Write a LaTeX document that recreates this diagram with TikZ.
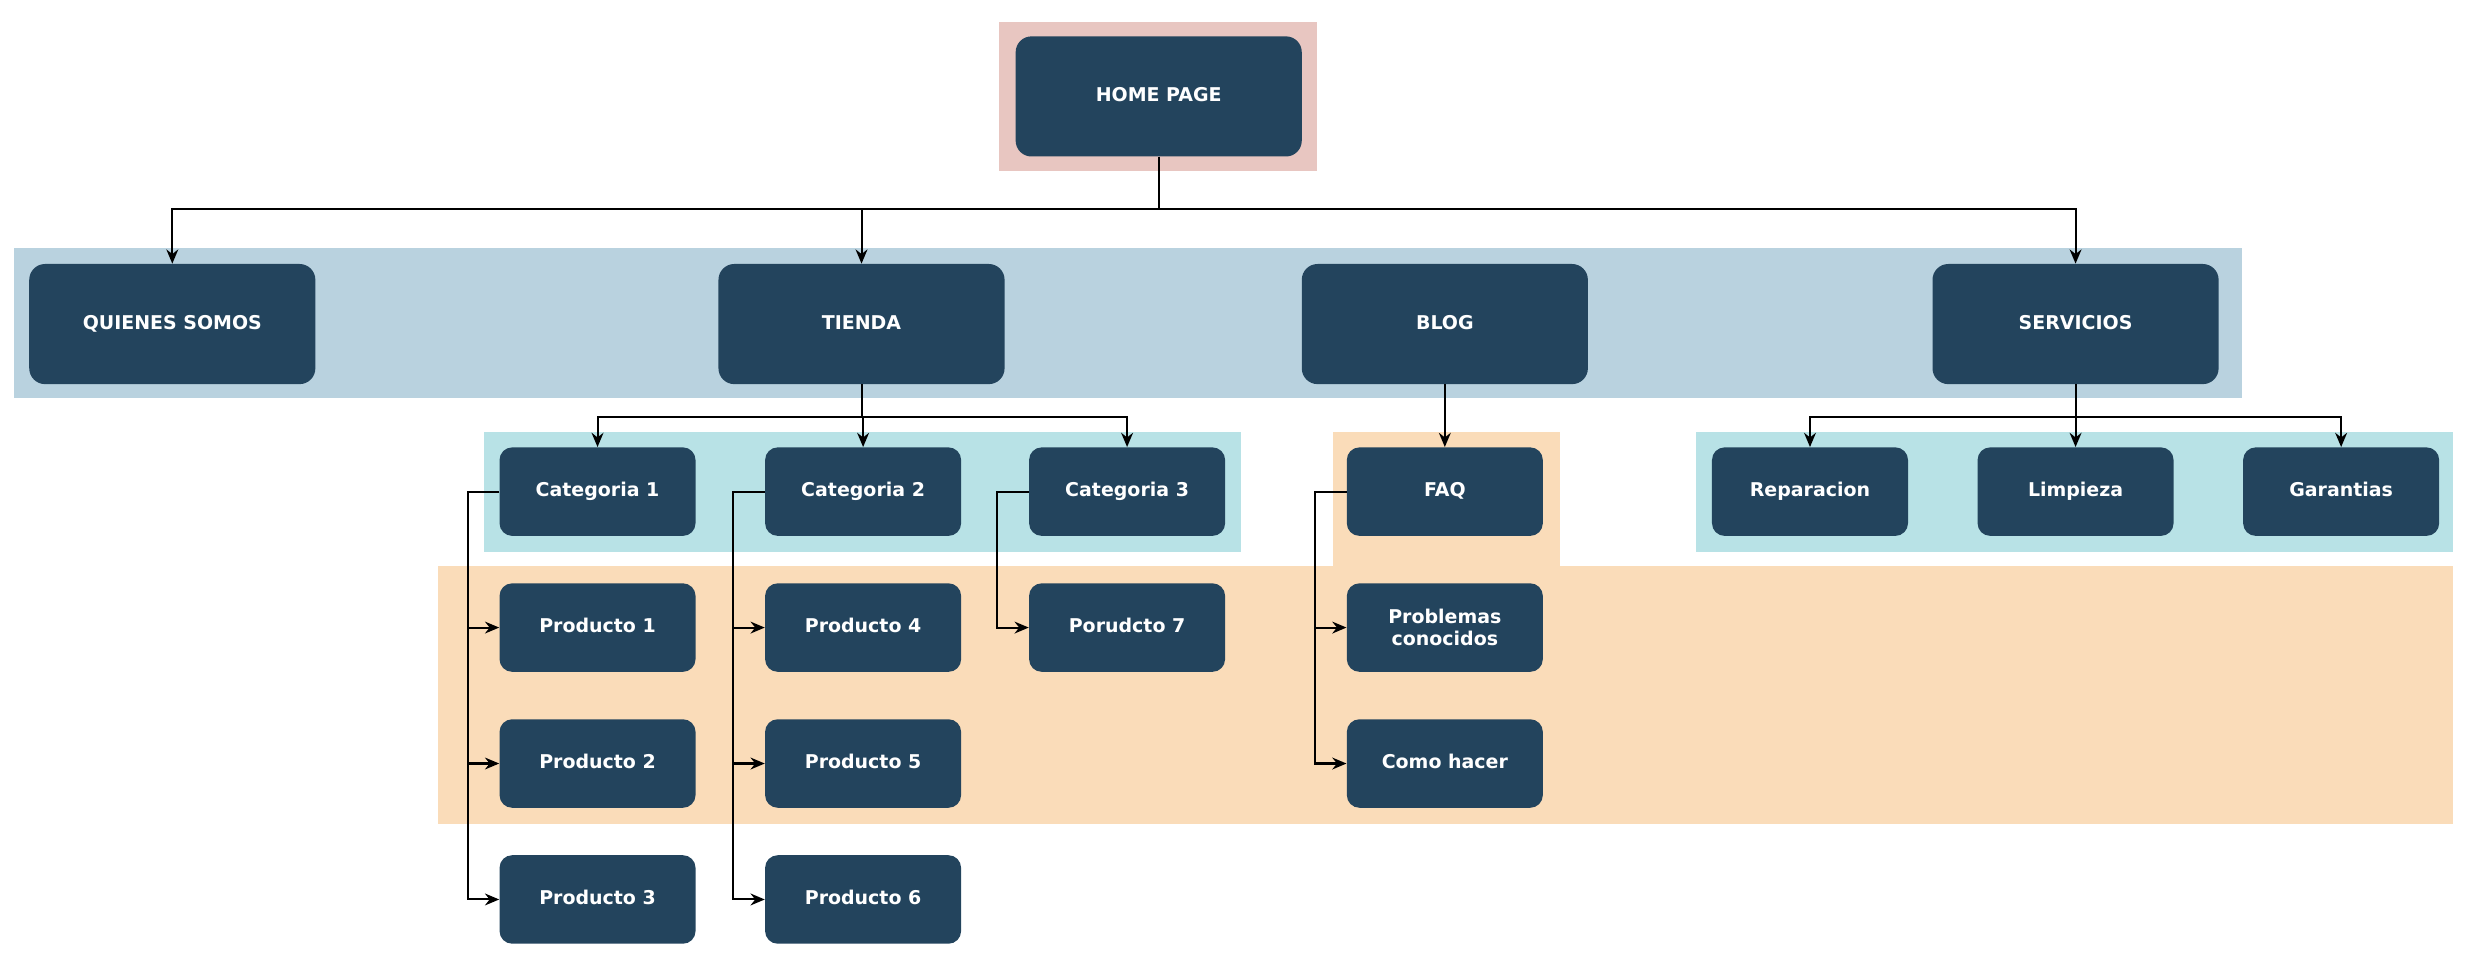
\documentclass[tikz,border=0pt]{standalone}
\usepackage{fontspec}
\setmainfont{DejaVu Sans}
\usepackage{tikz}
\usetikzlibrary{arrows.meta}

\definecolor{boxblue}{HTML}{23445D}
\definecolor{pinkband}{HTML}{E8C6C1}
\definecolor{blueband}{HTML}{B9D2DF}
\definecolor{cyanband}{HTML}{B8E2E6}
\definecolor{peachband}{HTML}{FADCB9}

\begin{document}
\begin{tikzpicture}[x=1pt,y=-1pt,
        page/.style={fill=boxblue,text=white,rounded corners=10pt,minimum width=181pt,minimum height=76pt,text height=9pt,text depth=2.5pt,font=\bfseries\fontsize{12}{14}\selectfont},
        subpage/.style={page,rounded corners=8pt,minimum width=124pt,minimum height=56pt,align=center},
        arr/.style={-{Stealth[length=9pt,width=7.5pt]},line width=1.3pt}]
                \useasboundingbox (0,0) rectangle (1560,618.7);
                %bands
                \fill[pinkband] (632,14) rectangle (833,108);
                \fill[blueband] (9,157) rectangle (1418,252);
                \fill[cyanband] (306,273) rectangle (785,349);
                \fill[cyanband] (1073,273) rectangle (1552,349);
                \fill[peachband] (843,273) rectangle (987,359);
                \fill[peachband] (277,358) rectangle (1552,521);
                %main pages
                \node[page] (home) at (733,61) {HOME PAGE};
                \node[page] (quienes) at (109,205) {QUIENES SOMOS};
                \node[page] (tienda) at (545,205) {TIENDA};
                \node[page] (blog) at (914,205) {BLOG};
                \node[page] (servicios) at (1313,205) {SERVICIOS};
                %second level
                \node[subpage] (cat1) at (378,311) {Categoria 1};
                \node[subpage] (cat2) at (546,311) {Categoria 2};
                \node[subpage] (cat3) at (713,311) {Categoria 3};
                \node[subpage] (faq) at (914,311) {FAQ};
                \node[subpage] (reparacion) at (1145,311) {Reparacion};
                \node[subpage] (limpieza) at (1313,311) {Limpieza};
                \node[subpage] (garantias) at (1481,311) {Garantias};
                %third level
                \node[subpage] (prod1) at (378,397) {Producto 1};
                \node[subpage] (prod2) at (378,483) {Producto 2};
                \node[subpage] (prod3) at (378,569) {Producto 3};
                \node[subpage] (prod4) at (546,397) {Producto 4};
                \node[subpage] (prod5) at (546,483) {Producto 5};
                \node[subpage] (prod6) at (546,569) {Producto 6};
                \node[subpage] (prod7) at (713,397) {Porudcto 7};
                \node[subpage,text height=,text depth=] (problemas) at (914,397) {Problemas\\conocidos};
                \node[subpage] (comohacer) at (914,483) {Como hacer};
                %buses
                \coordinate (homebus) at (733,132);
                \coordinate (tiendabus) at (545,264);
                \coordinate (serviciosbus) at (1313,264);
                %connectors
                \foreach \n in {quienes,tienda,servicios}
                    \draw[arr] (home.south) |- (homebus -| \n.north) -- (\n.north);
                \foreach \n in {cat1,cat2,cat3}
                    \draw[arr] (tienda.south) |- (tiendabus -| \n.north) -- (\n.north);
                \foreach \n in {reparacion,limpieza,garantias}
                    \draw[arr] (servicios.south) |- (serviciosbus -| \n.north) -- (\n.north);
                \draw[arr] (blog.south) -- (faq.north);
                \foreach \a/\b in {cat1/prod1,cat1/prod2,cat1/prod3,cat2/prod4,cat2/prod5,cat2/prod6,cat3/prod7,faq/problemas,faq/comohacer}
                    \draw[arr] (\a.west) -- ++(-20,0) |- (\b.west);
            \end{tikzpicture}
\end{document}
